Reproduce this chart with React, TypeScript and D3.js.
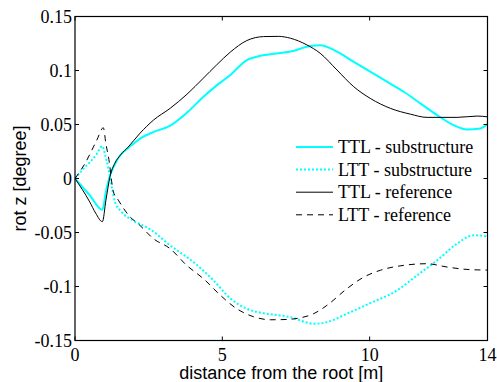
import React from "react";
import * as d3 from "d3";

// distance from the root [m] / rot z [degree]
const ttlSubX = [0, 0.5, 0.93, 1.05, 1.19, 1.35, 1.55, 1.8, 2.21, 2.66, 3.23, 3.8, 4.36, 4.8, 5.27, 5.83, 6.2, 6.63, 7.31, 7.99, 8.32, 8.89, 9.46, 10.02, 10.59, 11.16, 11.72, 12.29, 12.85, 13.3, 13.76, 14];
const ttlSubY = [0, -0.0155, -0.029, -0.012, 0.003, 0.013, 0.022, 0.028, 0.037, 0.043, 0.049, 0.061, 0.0757, 0.086, 0.0958, 0.1097, 0.113, 0.115, 0.1175, 0.1227, 0.1234, 0.1175, 0.108, 0.0989, 0.0896, 0.0803, 0.0696, 0.0587, 0.0494, 0.0454, 0.0464, 0.0504];

const lttSubX = [0, 0.25, 0.5, 0.72, 0.93, 1.02, 1.13, 1.25, 1.35, 1.55, 1.98, 2.55, 3.23, 4.02, 4.7, 5.27, 5.83, 6.4, 6.97, 7.31, 8.1, 8.55, 9.23, 10.02, 10.93, 11.61, 12.29, 12.97, 13.53, 14];
const lttSubY = [0, 0.008, 0.015, 0.022, 0.03, 0.022, 0.01, -0.008, -0.021, -0.03, -0.039, -0.047, -0.0619, -0.0774, -0.0943, -0.111, -0.1206, -0.1247, -0.1268, -0.1284, -0.1345, -0.133, -0.1252, -0.1154, -0.1036, -0.0897, -0.0758, -0.0603, -0.0526, -0.0535];

const ttlRefX = [0, 0.5, 0.7, 0.93, 1.05, 1.19, 1.35, 1.55, 1.8, 2.21, 2.66, 3.23, 3.8, 4.36, 4.8, 5.27, 5.83, 6.4, 6.9, 7.31, 7.87, 8.32, 8.89, 9.46, 10.02, 10.7, 11.38, 11.95, 12.97, 13.65, 14];
const ttlRefY = [0, -0.0217, -0.032, -0.04, -0.02, 0.002, 0.014, 0.022, 0.029, 0.042, 0.054, 0.065, 0.078, 0.093, 0.105, 0.117, 0.1277, 0.1314, 0.1316, 0.1299, 0.1237, 0.116, 0.1005, 0.085, 0.0742, 0.065, 0.0596, 0.0566, 0.0566, 0.0578, 0.0571];

const lttRefX = [0, 0.34, 0.74, 0.96, 1.05, 1.17, 1.25, 1.3, 1.47, 1.87, 2.15, 2.66, 3.23, 3.79, 4.36, 4.93, 5.49, 6.06, 6.63, 7.2, 7.65, 8.1, 8.55, 9.23, 9.8, 10.36, 11.16, 11.95, 12.63, 13.42, 14];
const lttRefY = [0, 0.014, 0.0355, 0.047, 0.032, 0.014, -0.004, -0.012, -0.02, -0.0356, -0.042, -0.0557, -0.065, -0.0804, -0.0928, -0.108, -0.1206, -0.128, -0.1308, -0.1305, -0.129, -0.1252, -0.1175, -0.102, -0.0913, -0.085, -0.0804, -0.0789, -0.082, -0.0844, -0.0848];

const seriesNames = ["TTL - substructure", "LTT - substructure", "TTL - reference", "LTT - reference"];
const xTicks = [0, 5, 10, 14];
const yTicks = [-0.15, -0.1, -0.05, 0, 0.05, 0.1, 0.15];

const W = 497;
const H = 382;
const left = 75, right = 487.5, top = 16.5, bottom = 340.5;

export default function App() {
  const x = d3.scaleLinear().domain([0, 14]).range([left, right]);
  const y = d3.scaleLinear().domain([-0.15, 0.15]).range([bottom, top]);
  const line = d3
    .line<[number, number]>()
    .x((d) => x(d[0]))
    .y((d) => y(d[1]))
    .curve(d3.curveMonotoneX);

  const zip = (xs: number[], ys: number[]) => xs.map((v, i) => [v, ys[i]] as [number, number]);

  const styles = [
    { stroke: "#00ffff", width: 2, dash: undefined as string | undefined },
    { stroke: "#00ffff", width: 2, dash: "2,2" },
    { stroke: "#000", width: 1, dash: undefined },
    { stroke: "#000", width: 1, dash: "6,5" },
  ];
  const data = [zip(ttlSubX, ttlSubY), zip(lttSubX, lttSubY), zip(ttlRefX, ttlRefY), zip(lttRefX, lttRefY)];

  const tickLen = 4;
  const serif = "Times New Roman, Liberation Serif, DejaVu Serif, serif";
  const sans = "Arial, Liberation Sans, sans-serif";

  return (
    <svg
      width={W}
      height={H}
      style={{ position: "absolute", left: 0, top: 0, background: "#fff" }}
    >
      <defs>
        <clipPath id="plot">
          <rect x={left} y={top} width={right - left} height={bottom - top} />
        </clipPath>
      </defs>

      {/* series */}
      <g clipPath="url(#plot)">
        {data.map((d, i) => (
          <path
            key={i}
            d={line(d) || undefined}
            fill="none"
            stroke={styles[i].stroke}
            strokeWidth={styles[i].width}
            strokeDasharray={styles[i].dash}
          />
        ))}
      </g>

      {/* box and ticks */}
      <rect x={left} y={top} width={right - left} height={bottom - top} fill="none" stroke="#000" strokeWidth={1.2} />
      {xTicks.map((t) => (
        <g key={"x" + t}>
          <line x1={x(t)} x2={x(t)} y1={bottom} y2={bottom - tickLen} stroke="#000" />
          <line x1={x(t)} x2={x(t)} y1={top} y2={top + tickLen} stroke="#000" />
          <text x={x(t)} y={bottom + 20} textAnchor="middle" style={{ fontFamily: serif }} fontSize={18}>
            {String(t)}
          </text>
        </g>
      ))}
      {yTicks.map((t) => (
        <g key={"y" + t}>
          <line x1={left} x2={left + tickLen} y1={y(t)} y2={y(t)} stroke="#000" />
          <line x1={right} x2={right - tickLen} y1={y(t)} y2={y(t)} stroke="#000" />
          <text x={left - 3} y={y(t) + 6.5} textAnchor="end" style={{ fontFamily: serif }} fontSize={18}>
            {String(t)}
          </text>
        </g>
      ))}

      {/* axis labels */}
      <text x={(left + right) / 2} y={379} textAnchor="middle" style={{ fontFamily: sans }} fontSize={18}>
        distance from the root [m]
      </text>
      <text
        transform={`translate(26,${(top + bottom) / 2}) rotate(-90)`}
        textAnchor="middle"
        style={{ fontFamily: sans }}
        fontSize={18}
      >
        rot z [degree]
      </text>

      {/* legend */}
      {seriesNames.map((name, i) => {
        const cy = 147 + i * 22.6;
        return (
          <g key={name}>
            <line
              x1={296}
              x2={333}
              y1={cy}
              y2={cy}
              stroke={styles[i].stroke}
              strokeWidth={styles[i].width}
              strokeDasharray={styles[i].dash}
            />
            <text x={338} y={cy + 6} style={{ fontFamily: serif }} fontSize={18}>
              {name}
            </text>
          </g>
        );
      })}
    </svg>
  );
}
